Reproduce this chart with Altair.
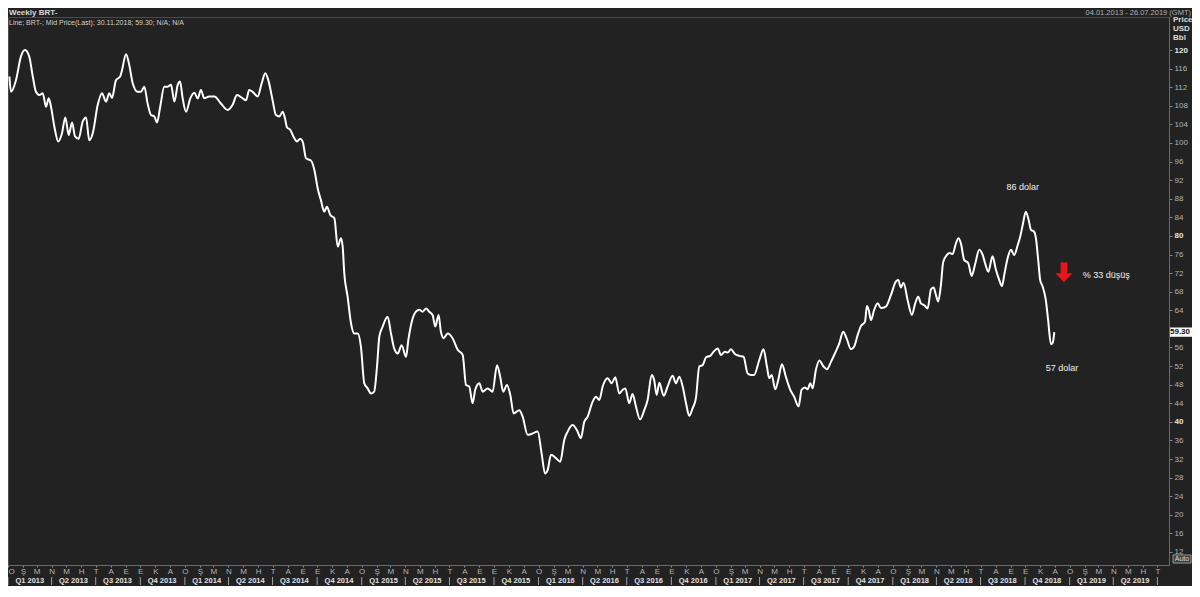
import altair as alt
import pandas as pd

FONT = "Liberation Sans"

# ---- weekly Brent series (years after 2013-01-01, USD/bbl)
year_frac = [
    0.008, 0.017, 0.045, 0.073, 0.096, 0.120, 0.140, 0.158, 0.177, 0.196,
    0.215, 0.230, 0.243, 0.262, 0.284, 0.305, 0.324, 0.343, 0.362, 0.379,
    0.399, 0.422, 0.441, 0.459, 0.479, 0.507, 0.531, 0.554, 0.572, 0.588,
    0.610, 0.634, 0.642, 0.667, 0.685, 0.705, 0.733, 0.751, 0.770, 0.789,
    0.808, 0.827, 0.842, 0.860, 0.883, 0.902, 0.921, 0.940, 0.959, 0.972,
    0.987, 1.006, 1.030, 1.053, 1.072, 1.090, 1.109, 1.137, 1.166, 1.203,
    1.241, 1.269, 1.294, 1.326, 1.345, 1.363, 1.382, 1.411, 1.433, 1.454,
    1.473, 1.495, 1.514, 1.533, 1.552, 1.565, 1.576, 1.595, 1.618, 1.633,
    1.650, 1.665, 1.684, 1.712, 1.731, 1.750, 1.768, 1.787, 1.802, 1.821,
    1.844, 1.863, 1.881, 1.891, 1.900, 1.919, 1.938, 1.956, 1.976, 1.994,
    2.013, 2.032, 2.051, 2.069, 2.085, 2.098, 2.117, 2.145, 2.164, 2.182,
    2.202, 2.224, 2.249, 2.262, 2.281, 2.305, 2.324, 2.343, 2.362, 2.380,
    2.399, 2.414, 2.433, 2.446, 2.462, 2.484, 2.512, 2.541, 2.569, 2.588,
    2.606, 2.625, 2.640, 2.663, 2.682, 2.710, 2.738, 2.763, 2.781, 2.798,
    2.819, 2.838, 2.857, 2.889, 2.908, 2.936, 2.964, 2.993, 3.015, 3.034,
    3.049, 3.068, 3.096, 3.120, 3.143, 3.162, 3.190, 3.215, 3.237, 3.256,
    3.275, 3.303, 3.322, 3.341, 3.360, 3.388, 3.411, 3.431, 3.454, 3.473,
    3.488, 3.510, 3.529, 3.548, 3.571, 3.595, 3.614, 3.637, 3.651, 3.665,
    3.680, 3.705, 3.727, 3.755, 3.774, 3.793, 3.812, 3.831, 3.849, 3.868,
    3.887, 3.906, 3.925, 3.944, 3.968, 3.987, 4.010, 4.028, 4.051, 4.066,
    4.085, 4.107, 4.132, 4.156, 4.179, 4.198, 4.216, 4.245, 4.269, 4.288,
    4.301, 4.315, 4.335, 4.352, 4.373, 4.395, 4.420, 4.442, 4.467, 4.484,
    4.503, 4.518, 4.533, 4.546, 4.565, 4.584, 4.608, 4.627, 4.650, 4.672,
    4.697, 4.719, 4.738, 4.763, 4.781, 4.801, 4.819, 4.842, 4.853, 4.863,
    4.876, 4.894, 4.914, 4.932, 4.960, 4.989, 5.017, 5.030, 5.045, 5.060,
    5.083, 5.107, 5.126, 5.143, 5.158, 5.177, 5.196, 5.215, 5.230, 5.243,
    5.256, 5.271, 5.284, 5.305, 5.322, 5.337, 5.356, 5.371, 5.384, 5.403,
    5.425, 5.445, 5.463, 5.488, 5.507, 5.521, 5.539, 5.563, 5.582, 5.601,
    5.616, 5.629, 5.648, 5.667, 5.685, 5.705, 5.719, 5.733, 5.751, 5.767,
    5.780, 5.798, 5.808, 5.821, 5.832, 5.846, 5.864, 5.877, 5.893, 5.903,
    5.912,
]
price = [
    114.3, 111.0, 113.5, 118.6, 120.0, 118.6, 114.3, 111.0, 110.3, 110.7,
    107.8, 109.6, 107.8, 103.5, 100.3, 102.1, 105.5, 101.7, 104.4, 101.4,
    100.9, 104.6, 105.5, 100.6, 102.1, 108.2, 110.7, 108.9, 110.7, 109.7,
    113.5, 114.3, 115.3, 119.1, 116.8, 112.8, 111.0, 111.0, 112.1, 108.5,
    106.0, 105.7, 104.4, 107.8, 112.1, 112.1, 112.5, 108.9, 112.5, 113.2,
    109.6, 106.7, 109.6, 110.8, 109.6, 111.4, 109.6, 110.0, 110.0, 108.5,
    107.1, 108.2, 110.3, 109.6, 109.2, 111.4, 111.0, 110.0, 112.8, 115.0,
    113.2, 109.2, 106.0, 105.7, 106.7, 105.3, 103.4, 102.8, 101.0, 100.3,
    100.9, 100.3, 96.7, 96.2, 94.2, 90.2, 87.7, 85.2, 86.3, 84.5,
    83.8, 77.7, 79.5, 77.7, 72.0, 66.9, 61.2, 59.0, 59.0, 56.2,
    48.3, 47.2, 46.1, 46.5, 51.9, 58.3, 60.5, 62.6, 59.0, 55.8,
    54.7, 56.5, 54.0, 57.6, 61.5, 63.7, 64.1, 63.7, 64.4, 63.7,
    63.0, 60.5, 63.0, 59.4, 58.0, 59.0, 58.0, 55.5, 54.4, 47.9,
    47.6, 44.0, 46.9, 48.3, 46.5, 47.2, 46.5, 52.2, 49.7, 46.5,
    47.9, 45.8, 41.8, 42.5, 41.1, 37.2, 37.5, 37.9, 33.2, 28.9,
    29.6, 32.9, 32.2, 31.4, 36.1, 37.9, 39.3, 38.2, 36.5, 40.0,
    41.1, 44.3, 45.4, 44.7, 47.6, 49.4, 48.3, 49.6, 46.1, 46.9,
    47.2, 44.0, 46.0, 43.3, 40.5, 42.5, 44.7, 50.1, 49.0, 45.8,
    48.4, 45.6, 47.6, 49.9, 48.3, 49.7, 47.6, 44.0, 41.3, 42.9,
    45.1, 51.9, 52.2, 53.9, 54.2, 55.1, 55.8, 54.4, 55.1, 54.9,
    55.6, 54.6, 54.2, 54.0, 50.4, 50.1, 50.1, 53.3, 55.6, 51.9,
    49.4, 50.1, 47.0, 49.0, 52.4, 49.7, 46.9, 45.4, 43.3, 46.9,
    47.4, 47.0, 48.3, 47.2, 51.2, 53.2, 51.9, 51.3, 52.9, 54.7,
    56.9, 59.4, 58.0, 55.6, 56.2, 58.7, 60.6, 61.5, 64.9, 64.1,
    61.9, 64.1, 65.5, 64.5, 64.8, 67.3, 70.2, 70.5, 68.9, 69.9,
    66.2, 63.0, 65.5, 66.9, 65.5, 65.1, 64.4, 68.5, 68.9, 67.3,
    65.9, 69.4, 74.4, 75.9, 76.3, 76.1, 78.4, 79.5, 78.4, 74.8,
    74.2, 71.4, 73.7, 77.0, 75.9, 74.1, 72.3, 75.6, 72.7, 70.5,
    69.2, 71.6, 75.2, 77.0, 75.9, 78.0, 79.8, 82.3, 85.2, 83.4,
    81.3, 80.9, 79.5, 74.8, 70.5, 69.1, 66.2, 61.9, 56.7, 57.0,
    59.3,
]

# ---- axis labels
month_letters = ["O", "Ş", "M", "N", "M", "H", "T", "A", "E", "E", "K", "A"]
y_ticks = list(range(12, 121, 4))
hidden_y_label = 60  # covered by the last-price box in the reference
quarter_labels = [f"Q{q} {y}" for y in range(2013, 2020) for q in range(1, 5)][:26]

# ---- annotations
ann_text = ["86 dolar", "57 dolar", "% 33 düşüş"]
ann_year = [5.734, 5.955, 6.073]
ann_value = [90.5, 51.6, 71.6]
ann_align = ["center", "center", "left"]
arrow_year = [5.966]
arrow_value = [72.2]
last_value = 59.30
last_label = "59.30"

BASE = pd.Timestamp("2013-01-01")


def to_date(f):
    return BASE + pd.Timedelta(days=f * 365.25)


df = pd.DataFrame({"date": [to_date(f) for f in year_frac], "price": price})

q_starts = pd.date_range("2013-01-01", "2019-07-01", freq="QS")
sep_df = pd.DataFrame({"date": q_starts})
ql_df = pd.DataFrame({
    "date": [d + pd.Timedelta(days=45) for d in q_starts[:26]],
    "label": quarter_labels,
})
ann_df = pd.DataFrame({
    "date": [to_date(f) for f in ann_year],
    "price": ann_value,
    "text": ann_text,
    "align": ann_align,
})
arrow_df = pd.DataFrame({"date": [to_date(f) for f in arrow_year], "price": arrow_value})
last_df = pd.DataFrame({
    "price": [last_value],
    "lo": [last_value - 1.0],
    "hi": [last_value + 1.0],
    "label": [last_label],
})

W, H = 1161, 548
month_ticks = [alt.DateTime(year=y, month=m, date=1)
               for y in range(2013, 2020) for m in range(1, 13)
               if (y, m) <= (2019, 7)]

xscale = alt.Scale(domain=[alt.DateTime(year=2013, month=1, date=1),
                           alt.DateTime(year=2019, month=7, date=25)])
yscale = alt.Scale(domain=[9.2, 127.1], nice=False, zero=False)

label_expr = "[" + ",".join(f"'{m}'" for m in month_letters) + "][month(datum.value)]"

XAXIS = alt.Axis(
    values=month_ticks, labelExpr=label_expr, title=None, orient="bottom",
    tickSize=2, labelPadding=0, labelOverlap=False, labelFlush=True,
    labelColor="#b4b4b4", labelFontSize=8, labelFont=FONT,
    tickColor="#8a8a8a", domainColor="#6a6a6a", grid=False)
YAXIS = alt.Axis(
    orient="right", values=y_ticks, title=None, grid=False,
    labelExpr=f"datum.value == {hidden_y_label} ? '' : datum.label",
    tickSize=3, labelPadding=2, labelFontSize=8, labelFont=FONT,
    labelColor={"condition": {"test": "datum.value % 40 === 0", "value": "#e6e6e6"},
                "value": "#b4b4b4"},
    labelFontWeight={"condition": {"test": "datum.value % 40 === 0", "value": "bold"},
                     "value": "normal"},
    tickColor="#8a8a8a", domainColor="#6a6a6a")


def X(field="date:T"):
    return alt.X(field, scale=xscale, axis=XAXIS)


def Y(field="price:Q"):
    return alt.Y(field, scale=yscale, axis=YAXIS)


line = alt.Chart(df).mark_line(
    color="#ffffff", strokeWidth=2, interpolate="monotone"
).encode(x=X(), y=Y())

seps = alt.Chart(sep_df).mark_rule(color="#a0a0a0", strokeWidth=1).encode(
    x=X(), y=alt.value(H + 12), y2=alt.value(H + 20),
)

qlabels = alt.Chart(ql_df).mark_text(
    font=FONT, fontSize=7.5, fontWeight="bold", color="#e0e0e0", baseline="middle"
).encode(x=X(), y=alt.value(H + 16), text="label:N")

anns_center = alt.Chart(ann_df[ann_df["align"] == "center"]).mark_text(
    font=FONT, fontSize=9, color="#f0f0f0", baseline="middle", align="center"
).encode(x=X(), y=Y(), text="text:N")
anns_left = alt.Chart(ann_df[ann_df["align"] == "left"]).mark_text(
    font=FONT, fontSize=9, color="#f0f0f0", baseline="middle", align="left"
).encode(x=X(), y=Y(), text="text:N")

arrow = alt.Chart(arrow_df).mark_point(
    shape="M-0.33,-1L0.33,-1L0.33,0.1L0.85,0.1L0,1L-0.85,0.1L-0.33,0.1Z",
    size=400, filled=True, color="#e8141a", opacity=1, strokeWidth=0,
).encode(x=X(), y=Y())

last_box = alt.Chart(last_df).mark_rect(color="#ffffff").encode(
    x=alt.value(W + 1), x2=alt.value(W + 23),
    y=Y("hi:Q"), y2="lo:Q",
)
last_txt = alt.Chart(last_df).mark_text(
    font=FONT, fontSize=8, fontWeight="bold", color="#111111", align="left", baseline="middle"
).encode(x=alt.value(W + 1), y=Y(), text="label:N")


def const_text(txt, x, y, align="left", color="#d0d0d0", weight="normal", size=7.5):
    return alt.Chart(pd.DataFrame({"t": [txt]})).mark_text(
        font=FONT, fontSize=size, color=color, fontWeight=weight,
        align=align, baseline="middle"
    ).encode(x=alt.value(x), y=alt.value(y), text="t:N")


header_l = const_text("Weekly BRT-", 1, -4, weight="bold", color="#d8d8d8", size=8)
header_r = const_text("04.01.2013 - 26.07.2019 (GMT)", 1183, -4, align="right", color="#b0b0b0")
legend_t = const_text("Line; BRT-; Mid Price(Last); 30.11.2018; 59.30; N/A; N/A", 1, 6, color="#d0d0d0", size=7)
unit1 = const_text("Price", W + 4, 3, weight="bold", color="#dcdcdc", size=8)
unit2 = const_text("USD", W + 4, 12, weight="bold", color="#dcdcdc", size=8)
unit3 = const_text("Bbl", W + 4, 21, weight="bold", color="#dcdcdc", size=8)

auto_box = alt.Chart(pd.DataFrame({"t": ["Auto"]})).mark_rect(
    fill="#3a3a3a", stroke="#9a9a9a", strokeWidth=1
).encode(x=alt.value(W + 4), x2=alt.value(W + 22), y=alt.value(H - 10), y2=alt.value(H - 2))
auto_txt = const_text("Auto", W + 13, H - 6, align="center", color="#e0e0e0", size=7)

chart = alt.layer(
    line, seps, qlabels, anns_center, anns_left, arrow, last_box, last_txt,
    header_l, header_r, legend_t, unit1, unit2, unit3, auto_box, auto_txt,
).properties(
    width=W, height=H,
    autosize=alt.AutoSizeParams(type="none"),
    padding={"left": 0, "top": 9, "right": 23, "bottom": 21},
).configure(
    background="#222222",
).configure_view(
    stroke="#4c4c4c", strokeWidth=1,
)

chart.save("out.html", embed_options={"renderer": "svg", "actions": False})
